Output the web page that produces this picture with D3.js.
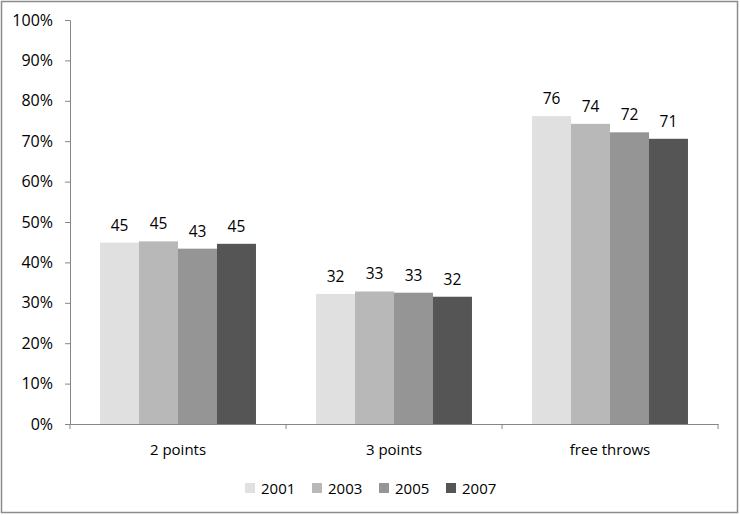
<!DOCTYPE html>
<html>
<head>
<meta charset="utf-8">
<script src="https://cdn.jsdelivr.net/npm/d3@7"></script>
<style>
  body { margin: 0; background: #fff; }
  svg text { font-family: "Open Sans", "Noto Sans", sans-serif; fill: #000; }
</style>
</head>
<body>
<svg width="740" height="515"></svg>
<script>
const categories = ["2 points", "3 points", "free throws"];
const years = ["2001", "2003", "2005", "2007"];
const values2001 = [44.9, 32.2, 76.2];
const values2003 = [45.2, 32.8, 74.3];
const values2005 = [43.4, 32.5, 72.2];
const values2007 = [44.6, 31.5, 70.6];
const yTicks = [0, 10, 20, 30, 40, 50, 60, 70, 80, 90, 100];
const colors = ["#e0e0e0", "#b8b8b8", "#959595", "#555555"];

const series = [values2001, values2003, values2005, values2007];

const svg = d3.select("svg");

// outer frame
svg.append("rect")
    .attr("x", 1.5).attr("y", 1.5)
    .attr("width", 736).attr("height", 511)
    .attr("fill", "#fff")
    .attr("stroke", "#8c8c8c")
    .attr("stroke-width", 1.5);

const plotLeft = 70, plotRight = 718, plotTop = 20, plotBottom = 424;

const x = d3.scaleBand()
    .domain(categories)
    .range([plotLeft, plotRight]);

const xInner = d3.scaleBand()
    .domain(years)
    .range([0, x.bandwidth()])
    .paddingOuter(0.77)
    .paddingInner(0);

const y = d3.scaleLinear()
    .domain([0, 100])
    .range([plotBottom, plotTop]);

// bars
categories.forEach((cat, ci) => {
    const g = svg.append("g").attr("transform", `translate(${x(cat)},0)`);
    g.selectAll("rect")
        .data(years)
        .enter()
        .append("rect")
        .attr("x", d => xInner(d))
        .attr("width", xInner.bandwidth())
        .attr("y", (d, i) => y(series[i][ci]))
        .attr("height", (d, i) => plotBottom - y(series[i][ci]))
        .attr("fill", (d, i) => colors[i]);
    g.selectAll("text")
        .data(years)
        .enter()
        .append("text")
        .attr("x", d => xInner(d) + xInner.bandwidth() / 2)
        .attr("y", (d, i) => y(series[i][ci]) - 12)
        .attr("text-anchor", "middle")
        .attr("font-size", 15.5)
        .text((d, i) => Math.round(series[i][ci]));
});

// y axis
const yAxis = d3.axisLeft(y)
    .tickValues(yTicks)
    .tickFormat(d => d + "%")
    .tickSize(5)
    .tickPadding(12);
const yg = svg.append("g")
    .attr("transform", `translate(${plotLeft},0)`)
    .call(yAxis);
yg.selectAll("text").attr("font-size", 16).style("font-family", "'Open Sans', 'Noto Sans', sans-serif").attr("fill", "#000");
yg.selectAll("line, path").attr("stroke", "#868686");

// x axis
const xAxis = d3.axisBottom(x)
    .tickValues([])
    .tickSizeOuter(0);
const xg = svg.append("g")
    .attr("transform", `translate(0,${plotBottom})`)
    .call(xAxis);
xg.select("path").attr("stroke", "#868686");
const boundaries = [plotLeft].concat(categories.map(c => x(c) + x.bandwidth()));
xg.selectAll("line.sep")
    .data(boundaries)
    .enter()
    .append("line")
    .attr("class", "sep")
    .attr("x1", d => d).attr("x2", d => d)
    .attr("y1", 0).attr("y2", 5)
    .attr("stroke", "#868686");

svg.selectAll("text.cat")
    .data(categories)
    .enter()
    .append("text")
    .attr("class", "cat")
    .attr("x", d => x(d) + x.bandwidth() / 2)
    .attr("y", plotBottom + 31)
    .attr("text-anchor", "middle")
    .attr("font-size", 15)
    .text(d => d);

// legend
const legendX = [245, 312, 379, 446];
const legend = svg.selectAll("g.legend")
    .data(years)
    .enter()
    .append("g")
    .attr("class", "legend")
    .attr("transform", (d, i) => `translate(${legendX[i]},488)`);
legend.append("rect")
    .attr("x", 0).attr("y", -5)
    .attr("width", 10).attr("height", 10)
    .attr("fill", (d, i) => colors[i]);
legend.append("text")
    .attr("x", 16).attr("y", 5.5)
    .attr("font-size", 15)
    .text(d => d);
</script>
</body>
</html>
